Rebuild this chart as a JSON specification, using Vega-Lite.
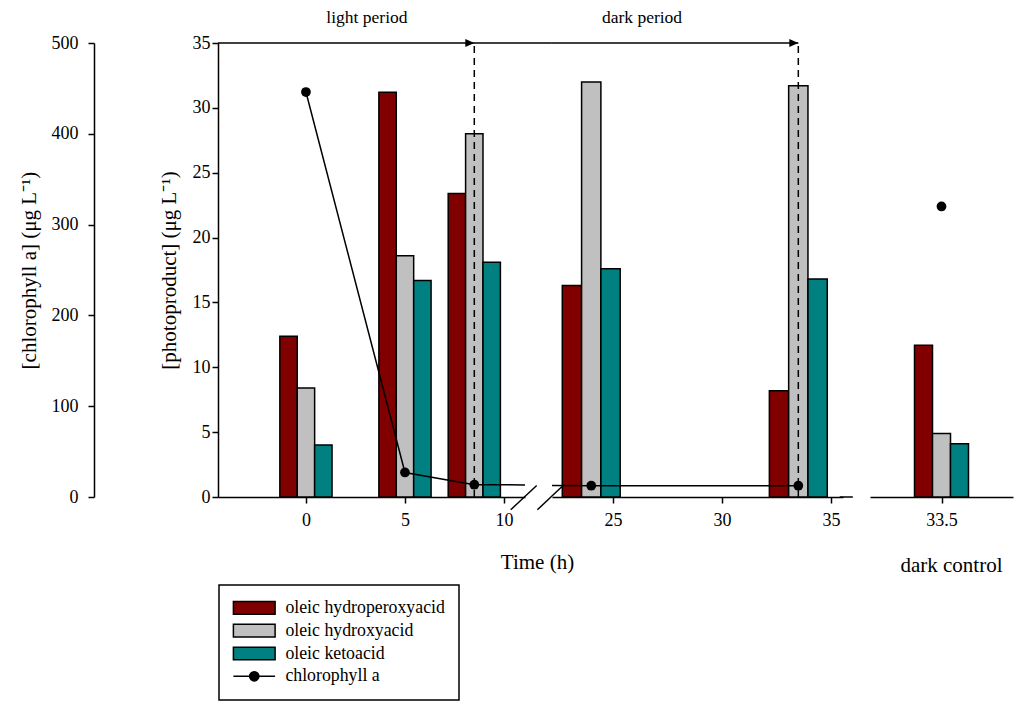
{
  "$schema": "https://vega.github.io/schema/vega-lite/v6.json",
  "background": "white",
  "padding": {"left": 18, "top": 9, "right": 5, "bottom": 5},
  "config": {
    "font": "Liberation Serif",
    "view": {"stroke": null},
    "axis": {
      "grid": false,
      "domainColor": "black",
      "domainWidth": 1.5,
      "tickColor": "black",
      "tickWidth": 1.5,
      "tickSize": 6,
      "labelColor": "black",
      "labelFont": "Liberation Serif",
      "labelFontSize": 18,
      "titleFont": "Liberation Serif",
      "titleFontSize": 21,
      "titleFontWeight": "normal",
      "titleColor": "black"
    }
  },
  "datasets": {
    "products": [
      {"group": "experiment", "time": 0, "series": "oleic hydroperoxyacid", "value": 12.4},
      {"group": "experiment", "time": 0, "series": "oleic hydroxyacid", "value": 8.4},
      {"group": "experiment", "time": 0, "series": "oleic ketoacid", "value": 4.0},
      {"group": "experiment", "time": 5, "series": "oleic hydroperoxyacid", "value": 31.2},
      {"group": "experiment", "time": 5, "series": "oleic hydroxyacid", "value": 18.6},
      {"group": "experiment", "time": 5, "series": "oleic ketoacid", "value": 16.7},
      {"group": "experiment", "time": 8.5, "series": "oleic hydroperoxyacid", "value": 23.4},
      {"group": "experiment", "time": 8.5, "series": "oleic hydroxyacid", "value": 28.0},
      {"group": "experiment", "time": 8.5, "series": "oleic ketoacid", "value": 18.1},
      {"group": "experiment", "time": 24, "series": "oleic hydroperoxyacid", "value": 16.3},
      {"group": "experiment", "time": 24, "series": "oleic hydroxyacid", "value": 32.0},
      {"group": "experiment", "time": 24, "series": "oleic ketoacid", "value": 17.6},
      {"group": "experiment", "time": 33.5, "series": "oleic hydroperoxyacid", "value": 8.2},
      {"group": "experiment", "time": 33.5, "series": "oleic hydroxyacid", "value": 31.7},
      {"group": "experiment", "time": 33.5, "series": "oleic ketoacid", "value": 16.8},
      {"group": "control", "time": 33.5, "series": "oleic hydroperoxyacid", "value": 11.7},
      {"group": "control", "time": 33.5, "series": "oleic hydroxyacid", "value": 4.9},
      {"group": "control", "time": 33.5, "series": "oleic ketoacid", "value": 4.1}
    ],
    "chl": [
      {"group": "experiment", "time": 0, "value": 446},
      {"group": "experiment", "time": 5, "value": 27},
      {"group": "experiment", "time": 8.5, "value": 13.5},
      {"group": "experiment", "time": 24, "value": 12.4},
      {"group": "experiment", "time": 33.5, "value": 12.4},
      {"group": "control", "time": 33.5, "value": 320}
    ]
  },
  "bounds": "flush",
  "spacing": 27,
  "hconcat": [
    {
      "width": 307,
      "height": 454,
      "resolve": {"scale": {"y": "independent"}},
      "layer": [
        {
          "layer": [
            {
              "data": {"name": "products"},
              "transform": [{"filter": "datum.group === 'experiment'"}],
              "mark": {
                "type": "bar",
                "orient": "vertical",
                "width": 17.4,
                "stroke": "black",
                "strokeWidth": 1.5,
                "clip": true,
                "xOffset": {"expr": "datum.series === 'oleic hydroperoxyacid' ? -17.4 : datum.series === 'oleic ketoacid' ? 17.4 : 0"}
              },
              "encoding": {
                "x": {
                  "field": "time",
                  "type": "quantitative",
                  "scale": {"domain": [-4.44, 11.06], "nice": false, "zero": false, "padding": 0},
                  "axis": {
                    "values": [0, 5, 10],
                    "labelPadding": 8,
                    "title": "Time (h)",
                    "titleX": 319,
                    "titleY": 71,
                    "titleBaseline": "alphabetic",
                    "titleAlign": "center"
                  }
                },
                "y": {
                  "field": "value",
                  "type": "quantitative",
                  "stack": null,
                  "scale": {"domain": [0, 35], "nice": false},
                  "axis": {
                    "values": [0, 5, 10, 15, 20, 25, 30, 35],
                    "labelPadding": 2,
                    "title": "[photoproduct] (μg L⁻¹)",
                    "titlePadding": 13
                  }
                },
                "color": {
                  "field": "series",
                  "type": "nominal",
                  "scale": {
                    "domain": ["oleic hydroperoxyacid", "oleic hydroxyacid", "oleic ketoacid", "chlorophyll a"],
                    "range": ["#800000", "#c0c0c0", "#008080", "#000000"]
                  },
                  "legend": {
                    "title": null,
                    "orient": "none",
                    "legendX": 1,
                    "legendY": 542,
                    "padding": 14,
                    "strokeColor": "black",
                    "fillColor": "white",
                    "symbolSize": 100,
                    "symbolOffset": 0,
                    "symbolStrokeColor": "black",
                    "symbolStrokeWidth": 1.5,
                    "symbolOpacity": 1,
                    "labelOffset": 34.6,
                    "rowPadding": 2.8,
                    "labelFont": "Liberation Serif",
                    "labelFontSize": 17.8,
                    "labelColor": "black",
                    "encode": {
                      "symbols": {
                        "update": {
                          "shape": {"signal": "datum.value === 'chlorophyll a' ? 'M-1.7,0H6.64M1.54,0A0.93,0.93 0 1,0 3.4,0A0.93,0.93 0 1,0 1.54,0Z' : 'M-1.7,-1.27H6.64V1.27H-1.7Z'"}
                        }
                      },
                      "legend": {"update": {"strokeWidth": {"value": 1.5}}}
                    }
                  }
                }
              }
            },
            {
              "data": {"values": [{}]},
              "mark": {"type": "rule", "color": "black", "strokeWidth": 1.5, "strokeDash": [7, 5]},
              "encoding": {"x": {"datum": 8.5}, "y": {"datum": 0}, "y2": {"datum": 35}}
            },
            {
              "data": {"values": [{}]},
              "mark": {"type": "rule", "color": "black", "strokeWidth": 1.5, "clip": false},
              "encoding": {"x": {"datum": -4.44}, "x2": {"datum": 12.42}, "y": {"datum": 35}}
            },
            {
              "data": {"values": [{}]},
              "mark": {"type": "point", "shape": "M-1,-0.44L0,0L-1,0.44Z", "size": 324, "filled": true, "color": "black", "opacity": 1},
              "encoding": {"x": {"datum": 8.5}, "y": {"datum": 35}}
            },
            {
              "data": {"values": [{}]},
              "mark": {"type": "rule", "color": "black", "strokeWidth": 1.5, "clip": false},
              "encoding": {"x": {"datum": 10.34}, "x2": {"datum": 11.65}, "y": {"datum": -0.98}, "y2": {"datum": 0.89}}
            },
            {
              "data": {"values": [{}]},
              "mark": {"type": "text", "text": "light period", "font": "Liberation Serif", "fontSize": 17.5, "dy": -25, "color": "black"},
              "encoding": {"x": {"datum": 3.08}, "y": {"datum": 35}}
            }
          ]
        },
        {
          "data": {"name": "chl"},
          "transform": [{"filter": "datum.group === 'experiment'"}],
          "layer": [
            {
              "mark": {"type": "line", "color": "black", "strokeWidth": 1.5, "clip": true},
              "encoding": {
                "x": {"field": "time", "type": "quantitative"},
                "y": {
                  "field": "value",
                  "type": "quantitative",
                  "scale": {"domain": [0, 500], "nice": false},
                  "axis": {
                    "orient": "left",
                    "offset": 124,
                    "values": [0, 100, 200, 300, 400, 500],
                    "labelPadding": 10,
                    "title": "[chlorophyll a] (μg L⁻¹)",
                    "titlePadding": 12
                  }
                }
              }
            },
            {
              "mark": {"type": "point", "shape": "circle", "size": 95, "filled": true, "color": "black", "opacity": 1, "clip": true},
              "encoding": {
                "x": {"field": "time", "type": "quantitative"},
                "y": {"field": "value", "type": "quantitative"}
              }
            }
          ]
        }
      ]
    },
    {
      "width": 291,
      "height": 454,
      "resolve": {"scale": {"y": "independent"}},
      "layer": [
        {
          "layer": [
            {
              "data": {"name": "products"},
              "transform": [{"filter": "datum.group === 'experiment'"}],
              "mark": {
                "type": "bar",
                "orient": "vertical",
                "width": 19.3,
                "stroke": "black",
                "strokeWidth": 1.5,
                "clip": true,
                "xOffset": {"expr": "datum.series === 'oleic hydroperoxyacid' ? -19.3 : datum.series === 'oleic ketoacid' ? 19.3 : 0"}
              },
              "encoding": {
                "x": {
                  "field": "time",
                  "type": "quantitative",
                  "scale": {"domain": [22.2, 35.55], "nice": false, "zero": false, "padding": 0},
                  "axis": {"values": [25, 30, 35], "labelPadding": 8, "title": null}
                },
                "y": {
                  "field": "value",
                  "type": "quantitative",
                  "stack": null,
                  "scale": {"domain": [0, 35], "nice": false},
                  "axis": null
                },
                "color": {"field": "series", "type": "nominal"}
              }
            },
            {
              "data": {"values": [{}]},
              "mark": {"type": "rule", "color": "black", "strokeWidth": 1.5, "clip": false},
              "encoding": {"x": {"datum": 35.4}, "x2": {"datum": 36.0}, "y": {"datum": 0}}
            },
            {
              "data": {"values": [{}]},
              "mark": {"type": "rule", "color": "black", "strokeWidth": 1.5, "strokeDash": [7, 5]},
              "encoding": {"x": {"datum": 33.5}, "y": {"datum": 0}, "y2": {"datum": 35}}
            },
            {
              "data": {"values": [{}]},
              "mark": {"type": "rule", "color": "black", "strokeWidth": 1.5, "clip": false},
              "encoding": {"x": {"datum": 22.2}, "x2": {"datum": 33.5}, "y": {"datum": 35}}
            },
            {
              "data": {"values": [{}]},
              "mark": {"type": "point", "shape": "M-1,-0.44L0,0L-1,0.44Z", "size": 324, "filled": true, "color": "black", "opacity": 1},
              "encoding": {"x": {"datum": 33.5}, "y": {"datum": 35}}
            },
            {
              "data": {"values": [{}]},
              "mark": {"type": "rule", "color": "black", "strokeWidth": 1.5, "clip": false},
              "encoding": {"x": {"datum": 21.53}, "x2": {"datum": 22.71}, "y": {"datum": -0.98}, "y2": {"datum": 0.89}}
            },
            {
              "data": {"values": [{}]},
              "mark": {"type": "text", "text": "dark period", "font": "Liberation Serif", "fontSize": 17.5, "dy": -25, "color": "black"},
              "encoding": {"x": {"datum": 26.33}, "y": {"datum": 35}}
            }
          ]
        },
        {
          "data": {"name": "chl"},
          "transform": [{"filter": "datum.group === 'experiment'"}],
          "layer": [
            {
              "mark": {"type": "line", "color": "black", "strokeWidth": 1.5, "clip": true},
              "encoding": {
                "x": {"field": "time", "type": "quantitative"},
                "y": {"field": "value", "type": "quantitative", "scale": {"domain": [0, 500], "nice": false}, "axis": null}
              }
            },
            {
              "mark": {"type": "point", "shape": "circle", "size": 95, "filled": true, "color": "black", "opacity": 1, "clip": true},
              "encoding": {
                "x": {"field": "time", "type": "quantitative"},
                "y": {"field": "value", "type": "quantitative"}
              }
            }
          ]
        }
      ]
    },
    {
      "width": 143,
      "height": 454,
      "resolve": {"scale": {"y": "independent"}},
      "layer": [
        {
          "data": {"name": "products"},
          "transform": [{"filter": "datum.group === 'control'"}],
          "mark": {
            "type": "bar",
            "orient": "vertical",
            "width": 18,
            "stroke": "black",
            "strokeWidth": 1.5,
            "xOffset": {"expr": "datum.series === 'oleic hydroperoxyacid' ? -18 : datum.series === 'oleic ketoacid' ? 18 : 0"}
          },
          "encoding": {
            "x": {
              "field": "time",
              "type": "quantitative",
              "scale": {"domain": [30, 37], "nice": false, "zero": false, "padding": 0},
              "axis": {
                "values": [33.5],
                "format": ".1f",
                "labelPadding": 8,
                "title": "dark control",
                "titleX": 81,
                "titleY": 74,
                "titleBaseline": "alphabetic",
                "titleAlign": "center"
              }
            },
            "y": {
              "field": "value",
              "type": "quantitative",
              "stack": null,
              "scale": {"domain": [0, 35], "nice": false},
              "axis": null
            },
            "color": {"field": "series", "type": "nominal"}
          }
        },
        {
          "data": {"name": "chl"},
          "transform": [{"filter": "datum.group === 'control'"}],
          "mark": {"type": "point", "shape": "circle", "size": 95, "filled": true, "color": "black", "opacity": 1},
          "encoding": {
            "x": {"field": "time", "type": "quantitative"},
            "y": {"field": "value", "type": "quantitative", "scale": {"domain": [0, 500], "nice": false}, "axis": null}
          }
        }
      ]
    }
  ]
}
